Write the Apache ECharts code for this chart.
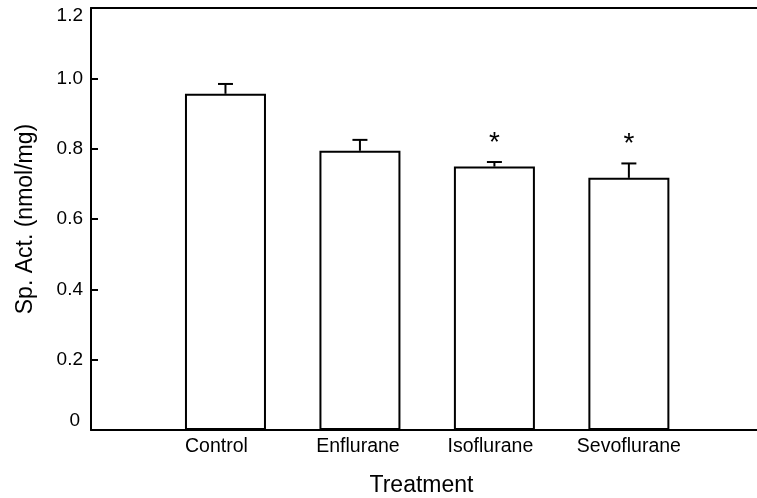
<!DOCTYPE html>
<html>
<head>
<meta charset="utf-8">
<script src="https://cdn.jsdelivr.net/npm/echarts@6/dist/echarts.min.js"></script>
<style>html,body{margin:0;padding:0;background:#fff;overflow:hidden;width:757px;height:498px}#c{width:757px;height:498px;overflow:hidden}</style>
</head>
<body>
<div id="c"></div>
<script>
var categories = ['Control', 'Enflurane', 'Isoflurane', 'Sevoflurane'];
var means = [0.956, 0.794, 0.749, 0.717];
var errors = [0.028, 0.031, 0.013, 0.041];
var significant = [false, false, true, true];
var yTicks = [0, 0.2, 0.4, 0.6, 0.8, 1.0, 1.2];

var FONT = 'Liberation Sans, Arial, sans-serif';
var chart = echarts.init(document.getElementById('c'), null, {renderer: 'canvas'});

var barData = means.map(function (m, i) { return [i + 1, m]; });
var errData = means.map(function (m, i) { return [i + 1, m, m + errors[i], significant[i] ? 1 : 0]; });
// small horizontal nudges of the category labels (px, right padding)
var labelNudge = [18, 4, 8, 0];
var xRich = {};
categories.forEach(function (c, i) {
  xRich['c' + i] = {fontFamily: FONT, fontSize: 19.5, color: '#000', padding: [0, labelNudge[i], 0, 0]};
});

chart.setOption({
  animation: false,
  backgroundColor: '#fff',
  grid: {left: 91, right: -5, top: 8, bottom: 68, containLabel: false, outerBoundsMode: 'none'},
  xAxis: [{
    type: 'value', min: 0, max: 4.99, interval: 1,
    name: 'Treatment', nameLocation: 'middle', nameGap: 44,
    nameTextStyle: {fontFamily: FONT, fontSize: 23, color: '#000', padding: [0, 10, 0, 0]},
    axisLine: {show: true, onZero: false, lineStyle: {color: '#000', width: 2}},
    axisTick: {show: false},
    splitLine: {show: false},
    axisLabel: {
      margin: 7, fontFamily: FONT, fontSize: 19.5, color: '#000',
      formatter: function (v) {
        var i = Math.round(v);
        if (Math.abs(v - i) > 1e-6) return '';
        if (!categories[i - 1]) return '';
        return '{c' + (i - 1) + '|' + categories[i - 1] + '}';
      },
      rich: xRich
    }
  }, {
    type: 'value', min: 0, max: 4.99, position: 'top',
    axisLine: {show: true, onZero: false, lineStyle: {color: '#000', width: 2}},
    axisTick: {show: false}, axisLabel: {show: false}, splitLine: {show: false}
  }],
  yAxis: {
    type: 'value', min: yTicks[0], max: yTicks[yTicks.length - 1], interval: 0.2,
    name: 'Sp. Act. (nmol/mg)', nameLocation: 'middle', nameGap: 54,
    nameTextStyle: {fontFamily: FONT, fontSize: 23, color: '#000'},
    axisLine: {show: true, onZero: false, lineStyle: {color: '#000', width: 2}},
    axisTick: {show: true, inside: true, length: 7, lineStyle: {color: '#000', width: 2}},
    splitLine: {show: false},
    axisLabel: {
      margin: 8, fontFamily: FONT, fontSize: 19, color: '#000',
      formatter: function (v) {
        if (v === 0) return '{lo|0}';
        if (Math.abs(v - 1.2) < 1e-6) return '{hi|1.2}';
        return v.toFixed(1);
      },
      rich: {
        lo: {fontFamily: FONT, fontSize: 19, color: '#000', padding: [0, 3, 18, 0]},
        hi: {fontFamily: FONT, fontSize: 19, color: '#000', padding: [16, 0, 0, 0]}
      }
    }
  },
  series: [{
    type: 'bar',
    data: barData,
    barWidth: 81,
    itemStyle: {color: '#fff', borderColor: '#000', borderWidth: 2},
    z: 2
  }, {
    type: 'custom',
    data: errData,
    z: 3,
    renderItem: function (params, api) {
      var x = api.value(0);
      var base = api.coord([x, api.value(1)]);
      var top = api.coord([x, api.value(2)]);
      var children = [
        {type: 'line', shape: {x1: base[0], y1: base[1], x2: top[0], y2: top[1]}, style: {stroke: '#000', lineWidth: 2}},
        {type: 'line', shape: {x1: top[0] - 7.5, y1: top[1], x2: top[0] + 7.5, y2: top[1]}, style: {stroke: '#000', lineWidth: 2}}
      ];
      if (api.value(3)) {
        children.push({type: 'text', style: {text: '*', x: top[0], y: top[1] - 19, textAlign: 'center', textVerticalAlign: 'middle', fontFamily: FONT, fontSize: 28, fill: '#000'}});
      }
      return {type: 'group', children: children};
    }
  }]
});
</script>
</body>
</html>
